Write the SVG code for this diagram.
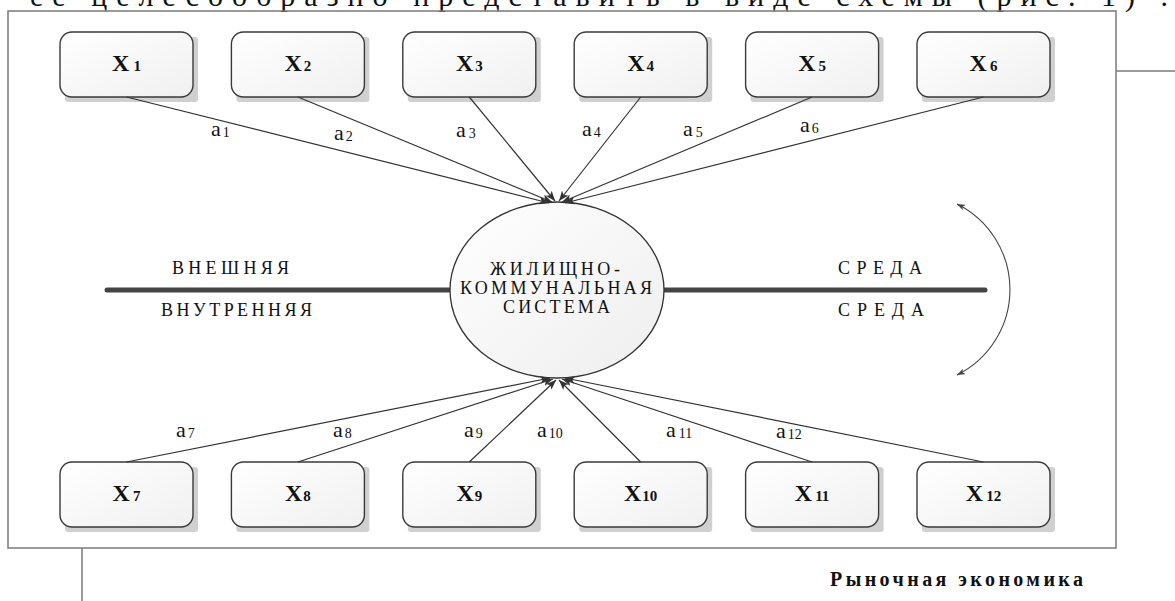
<svg xmlns="http://www.w3.org/2000/svg" width="1175" height="601" viewBox="0 0 1175 601">
  <style>
    .serif { font-family: "Liberation Serif", "Times New Roman", serif; }
    .frame { fill: none; stroke: #7a7a7a; stroke-width: 1.5; }
    .box { fill: url(#boxFill); stroke: #3a3a3a; stroke-width: 1.4; }
    .shadow { fill: #d0d0d0; }
    .xlabel { font-family: "Liberation Serif", "Times New Roman", serif; font-weight: bold; font-size: 24px; fill: #111; text-anchor: middle; }
    .sub { font-size: 15px; }
    .edge { stroke: #333; stroke-width: 1.2; fill: none; marker-end: url(#arrow); }
    .alabel { font-family: "Liberation Serif", "Times New Roman", serif; font-size: 22px; fill: #111; }
    .asub { font-size: 14px; }
    .caps { font-family: "Liberation Serif", "Times New Roman", serif; font-size: 18px; fill: #111; }
    .core { font-family: "Liberation Serif", "Times New Roman", serif; font-size: 18px; fill: #111; text-anchor: middle; }
    .divider { stroke: #444; stroke-width: 5; stroke-linecap: round; }
  </style>
  <defs>
    <linearGradient id="boxFill" x1="0" y1="0" x2="1" y2="1">
      <stop offset="0" stop-color="#ffffff"/>
      <stop offset="1" stop-color="#f0f0f0"/>
    </linearGradient>
    <linearGradient id="ellFill" x1="0" y1="0" x2="1" y2="1">
      <stop offset="0" stop-color="#ffffff"/>
      <stop offset="1" stop-color="#eeeeee"/>
    </linearGradient>
    <marker id="arrow" viewBox="0 0 10 8" refX="10" refY="4" markerWidth="10" markerHeight="8" markerUnits="userSpaceOnUse" orient="auto">
      <path d="M0,0 L10,4 L0,8 L2.5,4 z" fill="#333"/>
    </marker>
    <marker id="small" viewBox="0 0 8 6" refX="8" refY="3" markerWidth="8" markerHeight="6" markerUnits="userSpaceOnUse" orient="auto-start-reverse">
      <path d="M0,0 L8,3 L0,6 L2,3 z" fill="#444"/>
    </marker>
  </defs>

  <rect width="1175" height="601" fill="#ffffff"/>

  <!-- running text of the page, cut at the top edge -->
  <text class="serif" x="30" y="6" font-size="30" fill="#111" textLength="1138" lengthAdjust="spacing">ее целесообразно представить в виде схемы (рис. 1) .</text>

  <!-- page frame and layout rules -->
  <g id="frame">
    <rect class="frame" x="8" y="11" width="1108" height="537"/>
    <line class="frame" x1="1116" y1="71" x2="1175" y2="71"/>
    <line class="frame" x1="82" y1="548" x2="82" y2="601"/>
  </g>

  <!-- environment boundary -->
  <g id="boundary">
    <line class="divider" x1="107" y1="290" x2="449" y2="290"/>
    <line class="divider" x1="665" y1="290" x2="985" y2="290"/>
    <text class="caps" x="172" y="274" textLength="117" lengthAdjust="spacing">ВНЕШНЯЯ</text>
    <text class="caps" x="161" y="316" textLength="151" lengthAdjust="spacing">ВНУТРЕННЯЯ</text>
    <text class="caps" x="838" y="274" textLength="84" lengthAdjust="spacing">СРЕДА</text>
    <text class="caps" x="838" y="316" textLength="86" lengthAdjust="spacing">СРЕДА</text>
    <path d="M957,204 A95.5,95.5 0 0 1 957,375" fill="none" stroke="#444" stroke-width="1.1" marker-start="url(#small)" marker-end="url(#small)"/>
  </g>

  <!-- central system -->
  <g id="system">
    <ellipse cx="557" cy="290" rx="107" ry="88" fill="url(#ellFill)" stroke="#333" stroke-width="1.3"/>
    <text class="core" x="555" y="275" textLength="130" lengthAdjust="spacing">ЖИЛИЩНО-</text>
    <text class="core" x="556" y="294" textLength="192" lengthAdjust="spacing">КОММУНАЛЬНАЯ</text>
    <text class="core" x="556.5" y="313" textLength="107" lengthAdjust="spacing">СИСТЕМА</text>
  </g>

  <!-- factor nodes, top row -->
  <g id="x1"><rect class="shadow" x="65" y="37" width="133" height="65" rx="3"/><rect class="box" x="60" y="32" width="133" height="65" rx="12"/><text class="xlabel" x="126.5" y="71">X<tspan class="sub" dx="4">1</tspan></text></g>
  <g id="x2"><rect class="shadow" x="236.4" y="37" width="133" height="65" rx="3"/><rect class="box" x="231.4" y="32" width="133" height="65" rx="12"/><text class="xlabel" x="297.9" y="71">X<tspan class="sub" dx="2">2</tspan></text></g>
  <g id="x3"><rect class="shadow" x="407.8" y="37" width="133" height="65" rx="3"/><rect class="box" x="402.8" y="32" width="133" height="65" rx="12"/><text class="xlabel" x="469.3" y="71">X<tspan class="sub" dx="2">3</tspan></text></g>
  <g id="x4"><rect class="shadow" x="579.2" y="37" width="133" height="65" rx="3"/><rect class="box" x="574.2" y="32" width="133" height="65" rx="12"/><text class="xlabel" x="640.7" y="71">X<tspan class="sub" dx="2">4</tspan></text></g>
  <g id="x5"><rect class="shadow" x="750.6" y="37" width="133" height="65" rx="3"/><rect class="box" x="745.6" y="32" width="133" height="65" rx="12"/><text class="xlabel" x="812.1" y="71">X<tspan class="sub" dx="3">5</tspan></text></g>
  <g id="x6"><rect class="shadow" x="922" y="37" width="133" height="65" rx="3"/><rect class="box" x="917" y="32" width="133" height="65" rx="12"/><text class="xlabel" x="983.5" y="71">X<tspan class="sub" dx="3">6</tspan></text></g>

  <!-- factor nodes, bottom row -->
  <g id="x7"><rect class="shadow" x="65" y="467" width="133" height="65" rx="3"/><rect class="box" x="60" y="462" width="133" height="65" rx="12"/><text class="xlabel" x="126.5" y="501">X<tspan class="sub" dx="3">7</tspan></text></g>
  <g id="x8"><rect class="shadow" x="236.4" y="467" width="133" height="65" rx="3"/><rect class="box" x="231.4" y="462" width="133" height="65" rx="12"/><text class="xlabel" x="297.9" y="501">X<tspan class="sub" dx="1">8</tspan></text></g>
  <g id="x9"><rect class="shadow" x="407.8" y="467" width="133" height="65" rx="3"/><rect class="box" x="402.8" y="462" width="133" height="65" rx="12"/><text class="xlabel" x="469.3" y="501">X<tspan class="sub" dx="1">9</tspan></text></g>
  <g id="x10"><rect class="shadow" x="579.2" y="467" width="133" height="65" rx="3"/><rect class="box" x="574.2" y="462" width="133" height="65" rx="12"/><text class="xlabel" x="640.7" y="501">X<tspan class="sub" dx="1">10</tspan></text></g>
  <g id="x11"><rect class="shadow" x="750.6" y="467" width="133" height="65" rx="3"/><rect class="box" x="745.6" y="462" width="133" height="65" rx="12"/><text class="xlabel" x="812.1" y="501">X<tspan class="sub" dx="3">11</tspan></text></g>
  <g id="x12"><rect class="shadow" x="922" y="467" width="133" height="65" rx="3"/><rect class="box" x="917" y="462" width="133" height="65" rx="12"/><text class="xlabel" x="983.5" y="501">X<tspan class="sub" dx="3">12</tspan></text></g>

  <!-- connectors, drawn over the node shadows -->
  <g id="connectors">
    <line class="edge" x1="126.5" y1="97" x2="549" y2="203"/>
    <line class="edge" x1="297.9" y1="97" x2="552" y2="202"/>
    <line class="edge" x1="469.3" y1="97" x2="555" y2="201"/>
    <line class="edge" x1="640.7" y1="97" x2="559" y2="201"/>
    <line class="edge" x1="812.1" y1="97" x2="562" y2="202"/>
    <line class="edge" x1="983.5" y1="97" x2="565" y2="203"/>
    <line class="edge" x1="126.5" y1="462" x2="550" y2="378"/>
    <line class="edge" x1="297.9" y1="462" x2="553" y2="379"/>
    <line class="edge" x1="469.3" y1="462" x2="556" y2="380"/>
    <line class="edge" x1="640.7" y1="462" x2="559" y2="380"/>
    <line class="edge" x1="812.1" y1="462" x2="562" y2="379"/>
    <line class="edge" x1="983.5" y1="462" x2="565" y2="378"/>

    <text class="alabel" x="211" y="136">a<tspan class="asub" dx="2" dy="1">1</tspan></text>
    <text class="alabel" x="334" y="140">a<tspan class="asub" dx="2" dy="1">2</tspan></text>
    <text class="alabel" x="456" y="137">a<tspan class="asub" dx="3" dy="1">3</tspan></text>
    <text class="alabel" x="582" y="136">a<tspan class="asub" dx="2" dy="1">4</tspan></text>
    <text class="alabel" x="683" y="136">a<tspan class="asub" dx="3" dy="1">5</tspan></text>
    <text class="alabel" x="800" y="132">a<tspan class="asub" dx="2" dy="1">6</tspan></text>
    <text class="alabel" x="176" y="437">a<tspan class="asub" dx="2" dy="1">7</tspan></text>
    <text class="alabel" x="333" y="437">a<tspan class="asub" dx="2" dy="1">8</tspan></text>
    <text class="alabel" x="464" y="437">a<tspan class="asub" dx="2" dy="1">9</tspan></text>
    <text class="alabel" x="537" y="437">a<tspan class="asub" dx="2" dy="1">10</tspan></text>
    <text class="alabel" x="666" y="437">a<tspan class="asub" dx="3" dy="1">11</tspan></text>
    <text class="alabel" x="776" y="438">a<tspan class="asub" dx="2" dy="1">12</tspan></text>
  </g>

  <!-- running footer -->
  <text class="serif" x="830" y="586" font-weight="bold" font-size="20" fill="#111" textLength="253" lengthAdjust="spacing">Рыночная экономика</text>
</svg>
